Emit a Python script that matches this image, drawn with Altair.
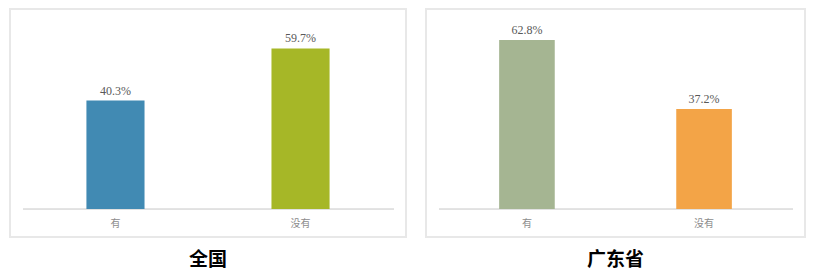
import altair as alt
import pandas as pd

categories = ["有", "没有"]
national_values = [40.3, 59.7]
guangdong_values = [62.8, 37.2]
national_colors = ["#418AB3", "#A6B727"]
guangdong_colors = ["#A5B592", "#F3A447"]
panel_titles = ["全国", "广东省"]


def panel(values, colors, title, width):
    df = pd.DataFrame({
        "cat": categories,
        "val": values,
        "color": colors,
        "label": [f"{v:.1f}%" for v in values],
        "base": [0.0, 0.0],
        "catpos": [-5.6, -5.6],
    })
    x = alt.X("cat:N", sort=categories, axis=None,
              scale=alt.Scale(paddingInner=0.686, paddingOuter=0.413))
    yscale = alt.Scale(domain=[-10.4, 74.35], nice=False, zero=False)
    base = alt.Chart(df)
    bars = base.mark_bar().encode(
        x=x,
        y=alt.Y("val:Q", scale=yscale, axis=None),
        y2="base:Q",
        color=alt.Color("color:N", scale=None),
    )
    vals = base.mark_text(font="Liberation Serif", fontSize=12, color="#595959",
                          baseline="alphabetic", dy=-6).encode(
        x=x, y=alt.Y("val:Q", scale=yscale, axis=None), text="label:N")
    cats = base.mark_text(font="Noto Sans CJK SC", fontSize=10, color="#8c8c8c",
                          baseline="middle").encode(
        x=x, y=alt.Y("catpos:Q", scale=yscale, axis=None), text="cat:N")
    rule = base.mark_rule(color="#d9d9d9", strokeWidth=1).encode(
        x=alt.value(13), x2=alt.value(width - 12),
        y=alt.Y("base:Q", scale=yscale, axis=None))
    return alt.layer(rule, bars, vals, cats).properties(
        width=width, height=228,
        title=alt.TitleParams(title, orient="bottom", fontSize=19, fontWeight="bold",
                              font="Noto Sans CJK SC", color="#000000", offset=14,
                              anchor="middle"),
    )


left = panel(national_values, national_colors, panel_titles[0], 396)
right = panel(guangdong_values, guangdong_colors, panel_titles[1], 379)

chart = alt.hconcat(left, right, spacing=18).configure_view(
    stroke="#e8e8e8", strokeWidth=2
).properties(
    padding={"left": 9, "top": 8, "right": 0, "bottom": 0},
    background="white",
)

chart.save("out.html", embed_options={"renderer": "svg", "actions": False})
